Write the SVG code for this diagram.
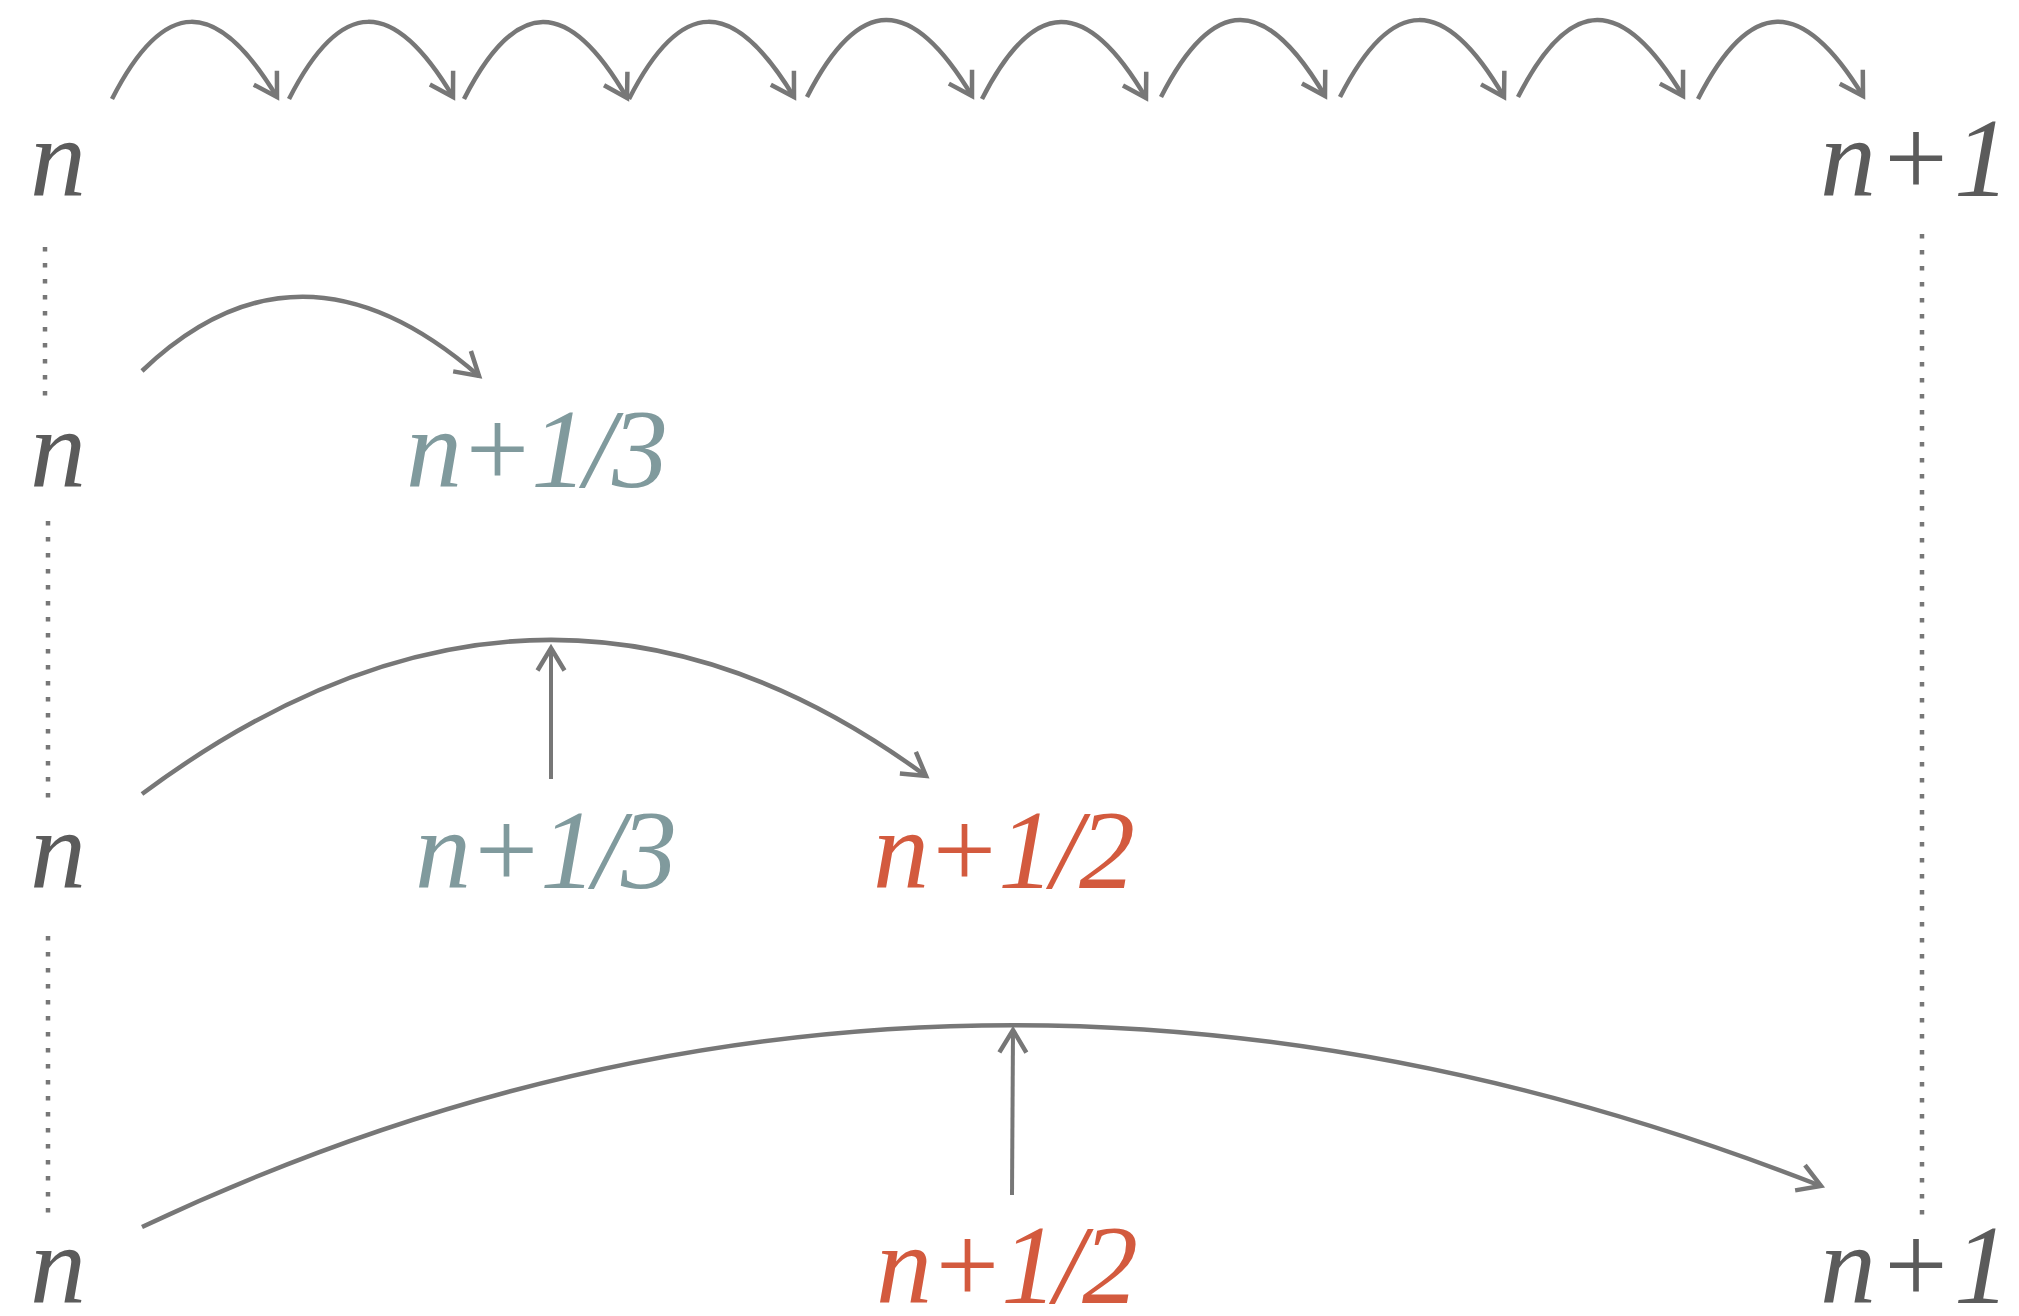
<svg xmlns="http://www.w3.org/2000/svg" width="2019" height="1316" viewBox="0 0 2019 1316">
<style>
.lbl{font-family:"Liberation Serif","Times New Roman",serif;font-style:italic;font-size:112px}
.dark{fill:#5b5b5b}
.teal{fill:#809a9d}
.red{fill:#d35a3e}
.arc{fill:none;stroke:#777;stroke-width:4.5;marker-end:url(#ah)}
.vert{fill:none;stroke:#777;stroke-width:4;marker-end:url(#ah)}
.dot{fill:none;stroke:#777;stroke-width:4.5;stroke-dasharray:4.5 11.5}
</style>
<defs>
<marker id="ah" markerUnits="userSpaceOnUse" markerWidth="40" markerHeight="40" viewBox="-30 -20 40 40" refX="0" refY="0" orient="auto" style="overflow:visible">
<path d="M-22.5,-13.5 L0,0 L-22.5,13.5" fill="none" stroke="#777" stroke-width="4.5" stroke-linejoin="miter"/>
</marker>
</defs>
<rect width="2019" height="1316" fill="#fff"/>

<g id="guides">
<line class="dot" x1="45" y1="247" x2="45" y2="400"/>
<line class="dot" x1="48" y1="521" x2="48" y2="802"/>
<line class="dot" x1="48" y1="936" x2="48" y2="1216"/>
<line class="dot" x1="1922" y1="234" x2="1922" y2="1216"/>
</g>

<g id="connectors">
<path class="arc" d="M112,99 c52,-102 104,-103 165,-2"/>
<path class="arc" d="M289,99 c52,-102 104,-103 164,-2"/>
<path class="arc" d="M464,99 c52,-102 104,-103 163,-1"/>
<path class="arc" d="M629,99 c52,-102 104,-103 165,-2"/>
<path class="arc" d="M807,97 c52,-102 104,-103 165,-1"/>
<path class="arc" d="M982,99 c52,-102 104,-103 164,-1"/>
<path class="arc" d="M1161,97 c52,-102 104,-103 164,-1"/>
<path class="arc" d="M1340,97 c52,-102 104,-103 164,0"/>
<path class="arc" d="M1518,97 c52,-102 104,-103 165,-1"/>
<path class="arc" d="M1698,99 c52,-102 104,-103 165,-3"/>
<path class="arc" d="M142,371 Q300,220 479,376"/>
<path class="arc" d="M142,794 Q544,495 926,776"/>
<path class="vert" d="M551,779 L551,648"/>
<path class="arc" d="M142,1227 Q950,845 1821,1186"/>
<path class="vert" d="M1012,1195 L1013,1030"/>
</g>

<g id="n-row1"><text class="lbl dark" x="30" y="196">n</text></g>
<g id="n1-row1"><text class="lbl dark" x="1820" y="196" textLength="190" lengthAdjust="spacing">n+1</text></g>
<g id="n-row2"><text class="lbl dark" x="30" y="487">n</text></g>
<g id="n13-row2"><text class="lbl teal" x="406" y="487" textLength="262" lengthAdjust="spacing">n+1/3</text></g>
<g id="n-row3"><text class="lbl dark" x="30" y="888">n</text></g>
<g id="n13-row3"><text class="lbl teal" x="415" y="888" textLength="262" lengthAdjust="spacing">n+1/3</text></g>
<g id="n12-row3"><text class="lbl red" x="873" y="888" textLength="262" lengthAdjust="spacing">n+1/2</text></g>
<g id="n-row4"><text class="lbl dark" x="30" y="1303">n</text></g>
<g id="n12-row4"><text class="lbl red" x="876" y="1303" textLength="262" lengthAdjust="spacing">n+1/2</text></g>
<g id="n1-row4"><text class="lbl dark" x="1820" y="1303" textLength="190" lengthAdjust="spacing">n+1</text></g>
</svg>
